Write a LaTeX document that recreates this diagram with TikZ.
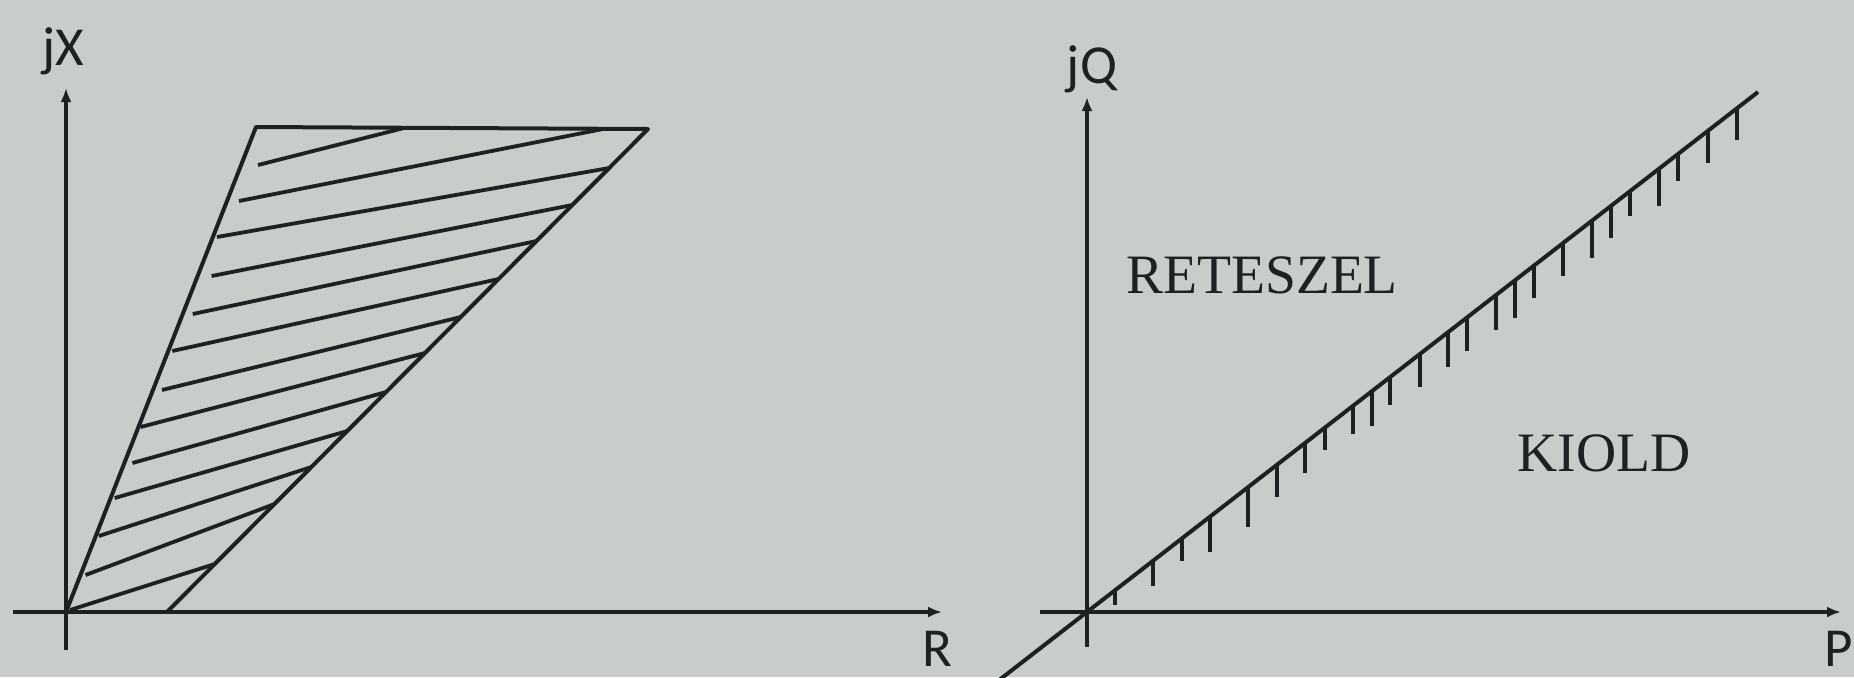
\documentclass[tikz,border=0pt]{standalone}
\usepackage{fontspec}
\setmainfont{Liberation Serif}
\newfontfamily\axfont{Carlito}
\usetikzlibrary{arrows.meta}
\definecolor{paper}{RGB}{201,205,202}
\definecolor{ink}{RGB}{30,33,33}
\begin{document}
\begin{tikzpicture}[x=0.5pt,y=-0.5pt,
  axisline/.style={draw=ink, line width=2.3pt},
  axarrow/.style={axisline, -{Latex[length=7pt,width=5.5pt]}},
  quadedge/.style={draw=ink, line width=2pt, line join=round},
  hatchline/.style={draw=ink, line width=1.9pt},
  tickmark/.style={draw=ink, line width=2pt},
  axlabel/.style={font=\axfont\fontsize{27.5}{30}\selectfont, text=ink, inner sep=0pt, anchor=base},
  regionlabel/.style={font=\fontsize{27.8}{30}\selectfont, text=ink, inner sep=0pt, anchor=base}]
\useasboundingbox (0,0) rectangle (1854,677);
\fill[paper] (0,0) rectangle (1854,677);

% ---------- left panel: R-X plane ----------
\coordinate (xl0) at (13,612);
\coordinate (xl1) at (942,612);
\coordinate (yl0) at (66,650);
\coordinate (yl1) at (66,88);
\draw[axarrow] (xl0) -- (xl1);
\draw[axarrow] (yl0) -- (yl1);
\node[axlabel] (jX) at (63,65) {jX};
\node[axlabel] (R) at (937,666) {R};

\coordinate (O) at (66,612);
\coordinate (A) at (256,127);
\coordinate (B) at (648,129);
\coordinate (C) at (167,612);
\draw[quadedge] (O) -- (A) -- (B) -- (C);

% hatch lines
\foreach \lx/\ly/\rx/\ry in {
  70/610/214.8/564,
  85.5/575/274.6/504,
  98.8/536/311.4/467,
  114.7/498/347.3/431,
  132.4/463/386.1/392,
  140.5/427/425/353,
  162/390/460.8/317,
  172.3/351/498.6/279,
  192.8/314/536.5/241,
  211.6/276/572.3/205,
  217/237/609.2/168,
  239/201/603/129,
  258/165/404/128}{
  \draw[hatchline] (\lx,\ly) -- (\rx,\ry);
}

% ---------- right panel: P-Q plane ----------
\coordinate (xr0) at (1040,612);
\coordinate (xr1) at (1841,612);
\coordinate (yr0) at (1087,647);
\coordinate (yr1) at (1087,97);
\draw[axarrow] (xr0) -- (xr1);
\draw[axarrow] (yr0) -- (yr1);
\node[axlabel] (jQ) at (1092,83) {jQ};
\node[axlabel, anchor=base west] (P) at (1824,666) {P};

\coordinate (DL) at (1000,679.4);
\coordinate (DT) at (1758,92);
\draw[quadedge] (DL) -- (DT);

\foreach \tx/\tl in {1115/15, 1153/25, 1182/23, 1210/35, 1248/40, 1277/32,
  1305/30, 1325/22, 1353/28, 1372/35, 1390/28, 1420/33, 1448/35, 1467/33,
  1496/35, 1515/38, 1534/32, 1563/33, 1592/37, 1611/32, 1630/25, 1659/37,
  1678/27, 1708/32, 1737/32}{
  \draw[tickmark] (\tx,{612-(\tx-1087)*0.775}) -- ++(0,\tl);
}

\node[regionlabel] (ret) at (1262,293) {RETESZEL};
\node[regionlabel] (kiold) at (1604,471) {KIOLD};
\end{tikzpicture}
\end{document}
